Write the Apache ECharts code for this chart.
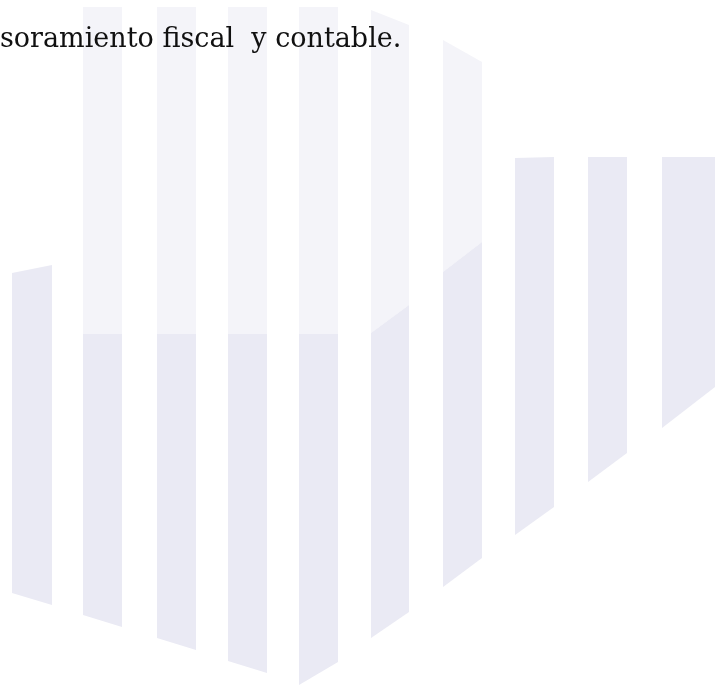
<!DOCTYPE html>
<html>
<head>
<meta charset="utf-8">
<style>
  html, body { margin: 0; padding: 0; background: #ffffff; }
  #chart { width: 720px; height: 688px; }
</style>
<script src="https://cdn.jsdelivr.net/npm/echarts@6/dist/echarts.min.js"></script>
</head>
<body>
<div id="chart"></div>
<script>
// Heading text (partially cut at left in the reference)
var headingText = 'soramiento fiscal  y contable.';

// Stripe geometry, in axis units (x: 0..720, y: 0..688 measured from top)
var stripeLeft   = [12, 83, 157, 228, 299, 371, 443, 515, 588, 662];
var stripeRight  = [52, 122, 196, 267, 338, 409, 482, 554, 627, 715];
var topLeft      = [273, 7, 7, 7, 7, 10, 40, 158, 157, 157];
var topRight     = [265, 7, 7, 7, 7, 25, 62, 157, 157, 157];
var splitLeft    = [273, 334, 334, 334, 334, 333, 272, 158, 157, 157];
var splitRight   = [265, 334, 334, 334, 334, 305, 242, 157, 157, 157];
var bottomLeft   = [593, 615, 638, 661, 685, 638, 587, 535, 482, 428];
var bottomRight  = [605, 627, 650, 673, 662, 612, 558, 507, 453, 387];

var rows = stripeLeft.map(function (l, i) {
  return [l, stripeRight[i], topLeft[i], topRight[i], splitLeft[i], splitRight[i], bottomLeft[i], bottomRight[i]];
});

var lightColor = '#f4f4f9';
var darkColor = '#eaeaf4';

function renderStripe(params, api) {
  var l = api.value(0), r = api.value(1);
  var tl = api.value(2), tr = api.value(3);
  var sl = api.value(4), sr = api.value(5);
  var bl = api.value(6), br = api.value(7);
  var children = [];
  if (sl > tl || sr > tr) {
    children.push({
      type: 'polygon',
      shape: { points: [api.coord([l, tl]), api.coord([r, tr]), api.coord([r, sr]), api.coord([l, sl])] },
      style: { fill: lightColor }
    });
  }
  children.push({
    type: 'polygon',
    shape: { points: [api.coord([l, sl]), api.coord([r, sr]), api.coord([r, br]), api.coord([l, bl])] },
    style: { fill: darkColor }
  });
  return { type: 'group', children: children };
}

var chart = echarts.init(document.getElementById('chart'), null, { renderer: 'canvas' });
chart.setOption({
  backgroundColor: '#ffffff',
  animation: false,
  grid: { left: 0, right: 0, top: 0, bottom: 0 },
  xAxis: { type: 'value', min: 0, max: 720, show: false },
  yAxis: { type: 'value', min: 0, max: 688, inverse: true, show: false },
  series: [{
    type: 'custom',
    renderItem: renderStripe,
    encode: { x: [0, 1], y: [2, 3, 4, 5, 6, 7] },
    data: rows,
    silent: true,
    z: 1
  }],
  graphic: [{
    type: 'text',
    x: 0,
    y: 40,
    z: 10,
    style: {
      text: headingText,
      font: '27px "DejaVu Serif"',
      fill: '#111111',
      verticalAlign: 'middle',
      align: 'left'
    }
  }]
});
</script>
</body>
</html>
